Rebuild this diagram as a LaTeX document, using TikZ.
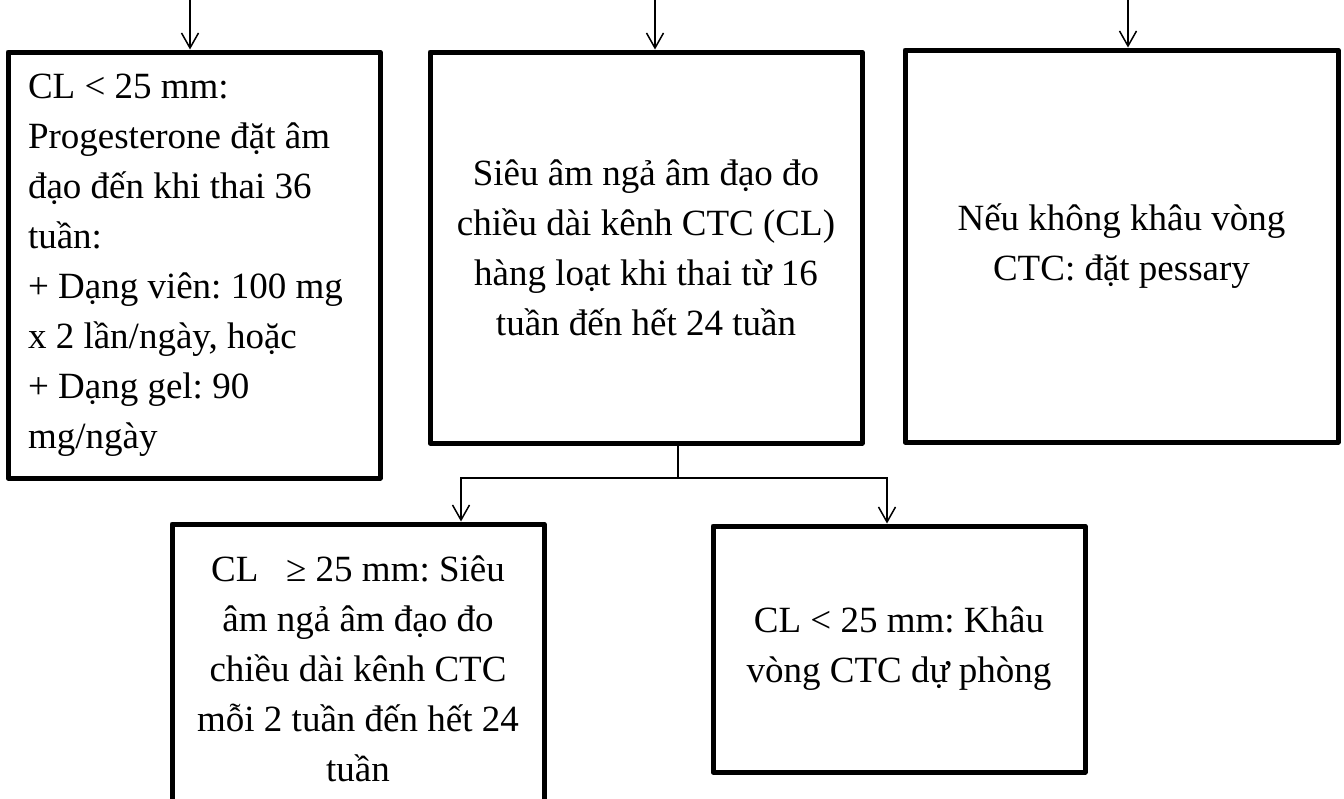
\documentclass[tikz,border=0pt]{standalone}
\usepackage{fontspec}
\setmainfont{Liberation Serif}
\usetikzlibrary{arrows.meta}

\begin{document}
\begin{tikzpicture}[
  x=1pt, y=-1pt,
  font=\fontsize{37}{50}\selectfont\frenchspacing,
  stepbox/.style={draw=black, line width=5pt, line join=round, inner sep=2pt, align=center},
  wire/.style={draw=black, line width=1.5pt},
  arr/.style={wire, -{Straight Barb[length=15pt, width=17pt]}},
]

\useasboundingbox (0,0) rectangle (1344,798);
\clip (0,0) rectangle (1344,798);

% Upper row.
\node[stepbox, minimum width=372pt, minimum height=426pt, text width=332pt, align=flush left] (boxA) at (194,265)
  {CL < 25 mm:\\Progesterone đặt âm\\đạo đến khi thai 36\\tuần:\\+ Dạng viên: 100 mg\\x 2 lần/ngày, hoặc\\+ Dạng gel: 90\\mg/ngày};
\node[stepbox, minimum width=432pt, minimum height=391pt] (boxB) at (646,247.5)
  {Siêu âm ngả âm đạo đo\\chiều dài kênh CTC (CL)\\hàng loạt khi thai từ 16\\tuần đến hết 24 tuần};
\node[stepbox, minimum width=433pt, minimum height=392pt] (boxC) at (1121.5,246)
  {Nếu không khâu vòng\\CTC: đặt pessary};

% Lower row.
\node[stepbox, minimum width=372pt, minimum height=290pt] (boxD) at (358,669)
  {CL\ \ \ ≥ 25 mm: Siêu\\âm ngả âm đạo đo\\chiều dài kênh CTC\\mỗi 2 tuần đến hết 24\\tuần};
\node[stepbox, minimum width=372pt, minimum height=246pt] (boxE) at (899,649)
  {CL < 25 mm: Khâu\\vòng CTC dự phòng};

% Incoming arrows.
\coordinate (inA) at (190,0);
\coordinate (inB) at (655,0);
\coordinate (inC) at (1128,0);
\draw[arr] (inA) -- (inA |- boxA.north);
\draw[arr] (inB) -- (inB |- boxB.north);
\draw[arr] (inC) -- (inC |- boxC.north);

% Branch below the middle box.
\coordinate (split) at (678,478);
\coordinate (dropD) at (461,0);
\coordinate (dropE) at (887,0);
\draw[wire] (boxB.south -| split) -- (split);
\draw[arr] (split) -| (dropD |- boxD.north);
\draw[arr] (split) -| (dropE |- boxE.north);

\end{tikzpicture}
\end{document}
